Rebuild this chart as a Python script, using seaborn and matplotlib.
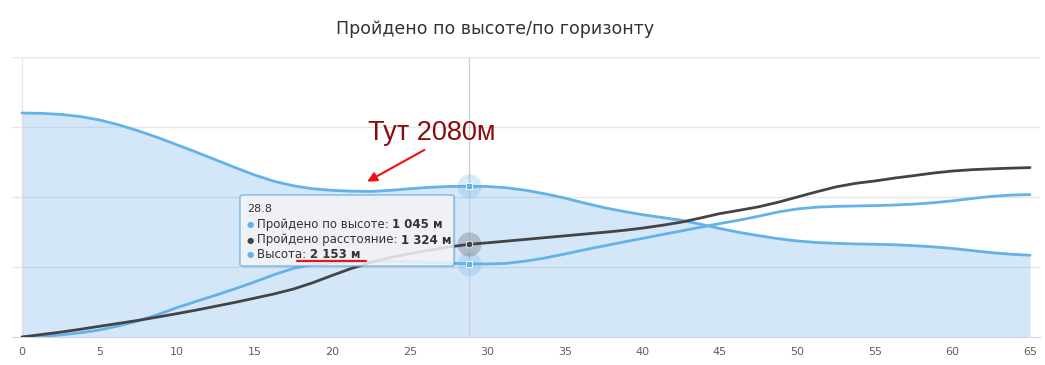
import numpy as np
import matplotlib
matplotlib.use("Agg")
import matplotlib.pyplot as plt
import seaborn as sns
from matplotlib.patches import FancyBboxPatch

# ---- данные ----
km = [0, 1.25, 2.5, 3.75, 5, 6.25, 7.5, 8.75, 10, 11.25, 12.5, 13.75, 15,
      16.25, 17.5, 18.75, 20, 21.25, 22.5, 23.75, 25, 26.25, 27.5, 28.8, 30,
      31.25, 32.5, 33.75, 35, 36.25, 37.5, 38.75, 40, 41.25, 42.5, 43.75, 45,
      46.25, 47.5, 48.75, 50, 51.25, 52.5, 53.75, 55, 56.25, 57.5, 58.75, 60,
      61.25, 62.5, 63.75, 65]
altitude = [3200, 3195, 3180, 3150, 3100, 3030, 2945, 2850, 2745, 2640, 2530,
            2420, 2315, 2225, 2160, 2118, 2095, 2083, 2080, 2095, 2118, 2138,
            2150, 2153, 2150, 2132, 2095, 2045, 1985, 1915, 1850, 1795, 1748,
            1708, 1668, 1612, 1550, 1495, 1448, 1405, 1372, 1350, 1338, 1330,
            1325, 1318, 1305, 1288, 1265, 1235, 1205, 1183, 1168]
climbed = [0, 8, 30, 60, 100, 160, 230, 320, 420, 510, 598, 690, 786, 890,
           980, 1035, 1062, 1075, 1080, 1080, 1075, 1066, 1055, 1045, 1043,
           1052, 1085, 1130, 1185, 1245, 1300, 1355, 1408, 1462, 1515, 1568,
           1620, 1670, 1725, 1785, 1830, 1855, 1866, 1872, 1877, 1885, 1898,
           1918, 1945, 1978, 2008, 2027, 2034]
distance = [0, 35, 70, 110, 153, 195, 238, 285, 334, 385, 440, 495, 555, 615,
            685, 775, 880, 980, 1065, 1135, 1190, 1240, 1285, 1324, 1345, 1370,
            1395, 1420, 1445, 1470, 1495, 1522, 1555, 1595, 1640, 1700, 1763,
            1810, 1860, 1925, 2000, 2075, 2145, 2195, 2229, 2270, 2305, 2342,
            2371, 2390, 2402, 2412, 2420]
hover_x = 28.8
names = ["Пройдено по высоте", "Пройдено расстояние", "Высота"]
title = "Пройдено по высоте/по горизонту"
note = "Тут 2080м"

BLUE = "#63b2e8"
DARK = "#434348"
W, H = 1045, 365

sns.set_style("white")
plt.rcParams["font.family"] = ["DejaVu Sans"]

fig = plt.figure(figsize=(W / 100, H / 100), dpi=100)
ax = fig.add_axes([12 / W, (H - 337) / H, 1028 / W, 280 / H])

# сетка
for g in [1000, 2000, 3000, 4000]:
    ax.axhline(g, color="#e6e6e6", lw=1, zorder=0)
ax.axvline(0, color="#fbe3e3", lw=1, zorder=0)

# область высоты + линии
ax.fill_between(km, altitude, 0, color="#7cb5ec", alpha=0.32, lw=0, zorder=1)
for y, col in [(altitude, BLUE), (climbed, BLUE), (distance, DARK)]:
    sns.lineplot(x=km, y=y, ax=ax, color=col, lw=2, zorder=3,
                 solid_joinstyle="round", solid_capstyle="round")

# перекрестие и маркеры
i = km.index(hover_x)
ax.axvline(hover_x, color="#c8d2dc", lw=1, zorder=2)
for val, col, mk in [(altitude[i], BLUE, "s"), (climbed[i], BLUE, "s"), (distance[i], DARK, "o")]:
    ax.scatter([hover_x], [val], s=300, color=col, alpha=0.25, lw=0, zorder=4)
    ax.scatter([hover_x], [val], s=24, color=col, marker=mk, edgecolor="white", lw=0.6, zorder=5)

ax.set_xlim(-0.645, 65.645)
ax.set_ylim(0, 4000)
ax.set_xticks(range(0, 66, 5))
ax.set_yticks([])
for s in ["top", "right", "left"]:
    ax.spines[s].set_visible(False)
ax.spines["bottom"].set_color("#ccd6eb")
ax.tick_params(axis="x", length=5, width=1, color="#ccd6eb", labelsize=8,
               labelcolor="#606060", pad=2)

# подпись и стрелка
ax.text(22.3, 2816, note, color="#8b0b0b", fontsize=19.5,
        family=["Liberation Sans", "DejaVu Sans"], va="baseline", zorder=6)
ax.annotate("", xy=(22.1, 2200), xytext=(26.1, 2691),
            arrowprops=dict(arrowstyle="-|>", color="#f01010", lw=1.5,
                            mutation_scale=14), zorder=6)

fig.text(495.5 / W, 1 - 29 / H, title, ha="center", va="center", fontsize=12.5, color="#333333")


# ---- подсказка (tooltip) ----
def fx(px):
    return px / W


def fy(py):
    return 1 - py / H


shadow = FancyBboxPatch((fx(241.5), fy(267.5)), fx(454) - fx(240), fy(195) - fy(266),
                        boxstyle="round,pad=0,rounding_size=0.004",
                        transform=fig.transFigure, facecolor="#000000", alpha=0.08,
                        lw=0, zorder=9)
fig.patches.append(shadow)
box = FancyBboxPatch((fx(240), fy(266)), fx(454) - fx(240), fy(195) - fy(266),
                     boxstyle="round,pad=0,rounding_size=0.004",
                     transform=fig.transFigure, facecolor="#f7f7f7", alpha=0.85,
                     edgecolor=BLUE, lw=1, zorder=10)
fig.patches.append(box)

fig.text(fx(247), fy(209), f"{hover_x}", fontsize=8, color="#333333",
         va="center", zorder=11)

renderer = fig.canvas.get_renderer()
rows = [(names[0], climbed[i], BLUE, 224.5), (names[1], distance[i], DARK, 240),
        (names[2], altitude[i], BLUE, 255)]
for name, val, col, py in rows:
    fig.text(fx(247), fy(py), "●", fontsize=6, color=col, va="center", zorder=11)
    t = fig.text(fx(257), fy(py), name + ": ", fontsize=8.45, color="#333333",
                 va="center", zorder=11)
    x1 = t.get_window_extent(renderer).x1
    v = f"{val:,}".replace(",", " ") + " м"
    fig.text(x1 / W, fy(py), v, fontsize=8.45, color="#333333", fontweight="bold",
             va="center", zorder=11)

# красное подчеркивание
fig.lines.append(plt.Line2D([fx(297), fx(366)], [fy(261), fy(261)],
                            transform=fig.transFigure, color="#e8161b", lw=1.6, zorder=12))

fig.savefig("out.png", dpi=100)
